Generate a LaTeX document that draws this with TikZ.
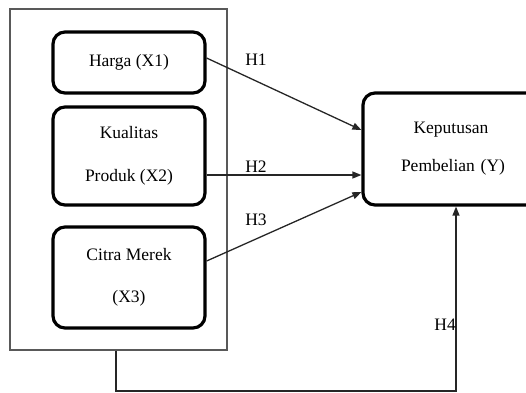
\documentclass[tikz,border=0pt]{standalone}
\usepackage{fontspec}
\setmainfont{Liberation Serif}
\usetikzlibrary{arrows.meta,calc}
\begin{document}
\begin{tikzpicture}[x=1pt,y=-1pt,
  varbox/.style={draw=black,line width=3.2pt,rounded corners=12pt,inner sep=0pt,align=center},
  framebox/.style={draw=black!65,line width=1.2pt,inner sep=0pt},
  link/.style={draw=black!85,line width=1.3pt,-{Triangle[length=9pt,width=7pt]}},
  lbl/.style={font=\fontsize{17.5}{20}\selectfont,inner sep=0pt}
]
\useasboundingbox (0,0) rectangle (526,392);
\node[framebox,minimum width=217pt,minimum height=341pt] (outer) at (118.5,179.5) {};
\node[varbox,minimum width=152pt,minimum height=61pt,font=\fontsize{17.5}{20}\selectfont] (harga) at (129,62.5) {Harga (X1)};
\node[varbox,minimum width=152pt,minimum height=98pt,font=\fontsize{17.5}{43}\selectfont] (kual) at (129,156) {Kualitas\\Produk (X2)};
\node[varbox,minimum width=152pt,minimum height=101pt,font=\fontsize{17.5}{42}\selectfont] (citra) at (129,277.5) {Citra Merek\\(X3)};
\node[varbox,minimum width=180pt,minimum height=112pt,font=\fontsize{17.5}{38}\selectfont,text width=180pt] (kep) at (453,149) {\hspace*{-4pt}Keputusan\\Pembelian (Y)\\[-4pt]};
\draw[link] (harga.east |- 0,58) -- (kep.west |- 0,130);
\draw[link] (kual.east |- 0,175) -- (kep.west |- 0,175);
\draw[link] (citra.east |- 0,261) -- (kep.west |- 0,192);
\coordinate (b1) at (116,391);
\draw[link] (outer.south -| b1) -- (b1) -| (kep.south -| 456,0);
\node[lbl] (h1) at (256,60) {H1};
\node[lbl] (h2) at (256,167) {H2};
\node[lbl] (h3) at (256,220) {H3};
\node[lbl,anchor=east] (h4) at (456,325) {H4};
\end{tikzpicture}
\end{document}
